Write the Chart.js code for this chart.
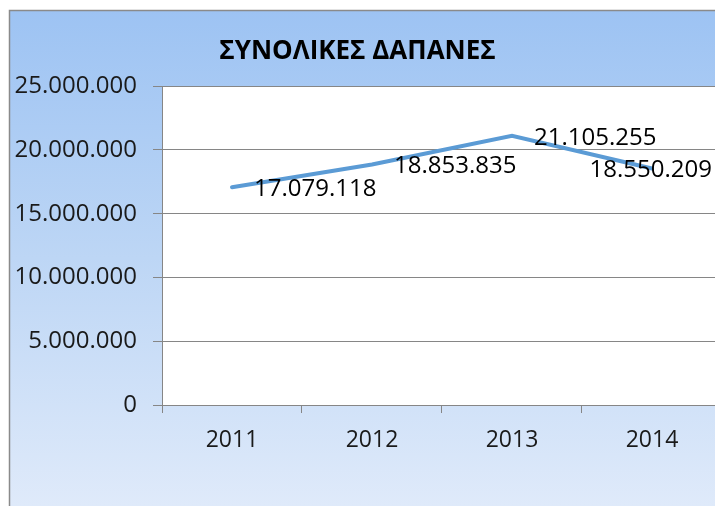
<!DOCTYPE html>
<html>
<head>
<meta charset="utf-8">
<script src="https://cdn.jsdelivr.net/npm/chart.js@4/dist/chart.umd.min.js"></script>
<style>
  html, body { margin: 0; padding: 0; background: #fff; }
  canvas { display: block; }
</style>
</head>
<body>
<canvas id="dapanesChart" width="715" height="506"></canvas>
<script>
// Δεδομένα
const years = [2011, 2012, 2013, 2014];
const totals = [17079118, 18853835, 21105255, 18550209];
const yTicks = [0, 5000000, 10000000, 15000000, 20000000, 25000000];
const chartTitle = "ΣΥΝΟΛΙΚΕΣ ΔΑΠΑΝΕΣ";

const gray = "#868686";
const fmt = (v) => String(Math.round(v)).replace(/\B(?=(\d{3})+(?!\d))/g, ".");

// φόντο με διαβάθμιση + λευκή περιοχή γραφήματος
const backgroundPlugin = {
    id: "bg",
    beforeDraw(chart) {
        const { ctx, chartArea, width, height } = chart;
        ctx.save();
        ctx.fillStyle = "#ffffff";
        ctx.fillRect(0, 0, width, height);
        const g = ctx.createLinearGradient(0, 10, 0, height);
        g.addColorStop(0, "#9dc3f3");
        g.addColorStop(0.5, "#bdd6f5");
        g.addColorStop(1, "#dfeafa");
        ctx.fillStyle = g;
        ctx.fillRect(9, 10, width - 9, height - 10);
        ctx.strokeStyle = "#8a8a8a";
        ctx.lineWidth = 1.5;
        ctx.beginPath();
        ctx.moveTo(9.5, height);
        ctx.lineTo(9.5, 10.5);
        ctx.lineTo(width, 10.5);
        ctx.stroke();
        ctx.fillStyle = "#ffffff";
        ctx.fillRect(chartArea.left, chartArea.top, chartArea.right - chartArea.left, chartArea.bottom - chartArea.top);
        ctx.restore();
    }
};

// ετικέτες τιμών δίπλα στα σημεία
const valueLabels = {
    id: "valueLabels",
    afterDatasetsDraw(chart) {
        const { ctx, chartArea } = chart;
        const meta = chart.getDatasetMeta(0);
        ctx.save();
        ctx.font = "24px 'Open Sans'";
        ctx.fillStyle = "#000000";
        ctx.textBaseline = "middle";
        ctx.textAlign = "left";
        meta.data.forEach((pt, i) => {
            const txt = fmt(totals[i]);
            const w = ctx.measureText(txt).width;
            let x = pt.x + 22;
            if (x + w > chartArea.right - 3) x = chartArea.right - 3 - w;
            ctx.fillText(txt, x, pt.y + 2);
        });
        ctx.restore();
    }
};

new Chart(document.getElementById("dapanesChart"), {
    type: "line",
    data: {
        datasets: [{
            label: "Δαπάνες",
            data: years.map((y, i) => ({ x: y, y: totals[i] })),
            borderColor: "#5b9bd5",
            borderWidth: 4,
            borderCapStyle: "round",
            pointRadius: 0,
            tension: 0
        }]
    },
    options: {
        responsive: false,
        animation: false,
        layout: { padding: 0 },
        plugins: {
            legend: { display: false },
            tooltip: { enabled: false },
            title: {
                display: true,
                text: chartTitle,
                align: "center",
                color: "#000000",
                font: { family: "'Open Sans'", weight: "bold", size: 26, lineHeight: 1.2 },
                padding: { top: 36, bottom: 19 }
            }
        },
        scales: {
            x: {
                type: "linear",
                min: 2010.5,
                max: 2014.45,
                afterBuildTicks(scale) {
                    const t = [];
                    for (let v = 2010.5; v <= 2014.01; v += 0.5) t.push({ value: v });
                    scale.ticks = t;
                },
                afterFit(scale) { scale.height = 101; },
                grid: {
                    drawOnChartArea: false,
                    tickLength: 8,
                    tickColor: (c) => (c.tick && Number.isInteger(c.tick.value)) ? "rgba(0,0,0,0)" : gray
                },
                border: { display: true, color: gray },
                ticks: {
                    autoSkip: false,
                    maxRotation: 0,
                    padding: 14,
                    color: "#1a1a1a",
                    font: { family: "'Open Sans'", size: 23 },
                    callback: (v) => Number.isInteger(v) ? String(v) : ""
                }
            },
            y: {
                min: 0,
                max: 25000000,
                afterBuildTicks(scale) { scale.ticks = yTicks.map(v => ({ value: v })); },
                afterFit(scale) { scale.width = 162; },
                grid: { color: gray, tickLength: 9, tickColor: gray },
                border: { display: true, color: gray },
                ticks: {
                    padding: 16,
                    color: "#1a1a1a",
                    font: { family: "'Open Sans'", size: 24 },
                    callback: (v) => fmt(v)
                }
            }
        }
    },
    plugins: [backgroundPlugin, valueLabels]
});
</script>
</body>
</html>
